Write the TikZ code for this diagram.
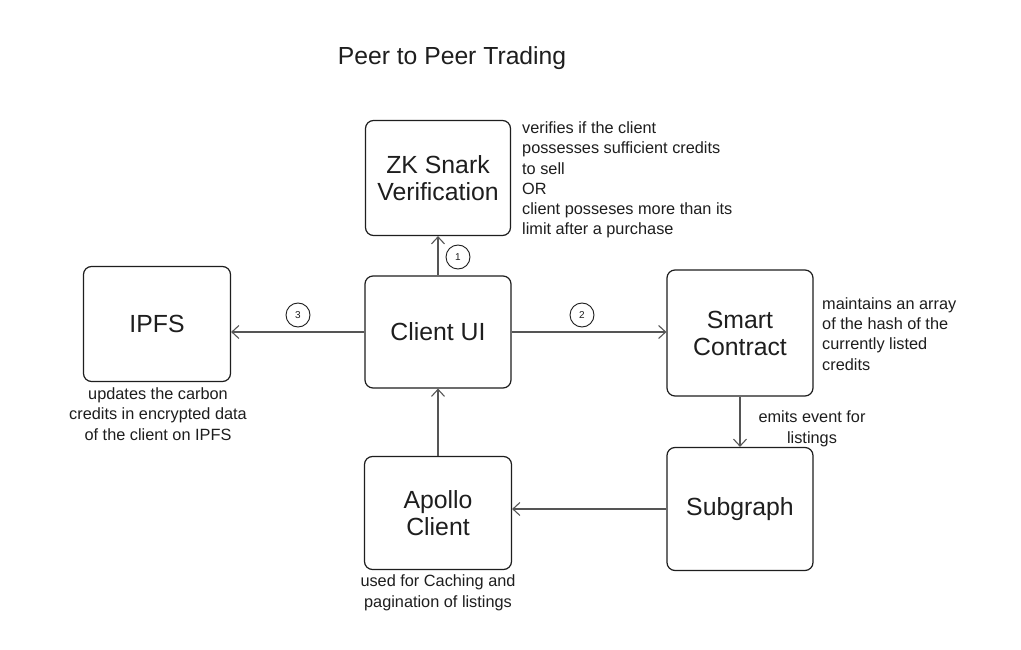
\documentclass[tikz,border=0pt]{standalone}
\usepackage{fontspec}
\setmainfont{Liberation Sans}
\usetikzlibrary{arrows.meta}
\definecolor{ink}{HTML}{1E1E1E}
\definecolor{arrowc}{HTML}{555555}
\tikzset{
  block/.style={draw=ink, line width=1.2pt, rounded corners=8pt, align=center,
    text=ink, font=\fontsize{24.8}{27}\selectfont, inner sep=0pt},
  conn/.style={draw=arrowc, line width=1.2pt, -{Straight Barb[length=7pt,width=13pt,line width=1.1pt]}},
  step num/.style={circle, draw=ink, line width=0.9pt, minimum size=24pt, inner sep=0pt,
    text=ink, font=\fontsize{10}{12}\selectfont},
  note/.style={text=ink, font=\fontsize{16.3}{20.3}\selectfont, inner sep=0pt},
}
\begin{document}
\begin{tikzpicture}[x=1pt,y=-1pt]
\useasboundingbox (0,0) rectangle (1021,650);
\fill[white] (0,0) rectangle (1021,650);

\node[text=ink, font=\fontsize{24.7}{28}\selectfont, anchor=base, inner sep=0pt] (title) at (452,65) {Peer to Peer Trading};

\node[block, minimum width=145pt, minimum height=115pt] (zk) at (438,178) {ZK Snark\\Verification};
\node[block, minimum width=146pt, minimum height=112pt] (client) at (438,332) {Client UI};
\node[block, minimum width=147pt, minimum height=115pt] (ipfs) at (157,324) {IPFS};
\node[block, minimum width=146pt, minimum height=126pt] (smart) at (740,333) {Smart\\Contract};
\node[block, minimum width=146pt, minimum height=123pt] (sub) at (740,509) {Subgraph};
\node[block, minimum width=147pt, minimum height=113pt] (apollo) at (438,513) {Apollo\\Client};

\draw[conn] (client.north) -- (zk.south);
\draw[conn] (client.west) -- (client.west -| ipfs.east);
\draw[conn] (client.east) -- (client.east -| smart.west);
\draw[conn] (smart.south) -- (sub.north);
\draw[conn] (sub.west) -- (sub.west -| apollo.east);
\draw[conn] (apollo.north) -- (client.south);

\node[step num] (n1) at (458,257) {1};
\node[step num] (n2) at (582,315) {2};
\node[step num] (n3) at (298,315) {3};

\node[note, align=left, anchor=base west] (zknote) at (522,235) {verifies if the client\\possesses sufficient credits\\to sell\\OR\\client posseses more than its\\limit after a purchase};
\node[note, align=left, anchor=base west] (smartnote) at (822,370) {maintains an array\\of the hash of the\\currently listed\\credits};
\node[note, align=center, anchor=base] (emitnote) at (812,443) {emits event for\\listings};
\node[note, align=center, anchor=base] (ipfsnote) at (158,440) {updates the carbon\\credits in encrypted data\\of the client on IPFS};
\node[note, align=center, anchor=base] (apollonote) at (438,607) {used for Caching and\\pagination of listings};
\end{tikzpicture}
\end{document}
